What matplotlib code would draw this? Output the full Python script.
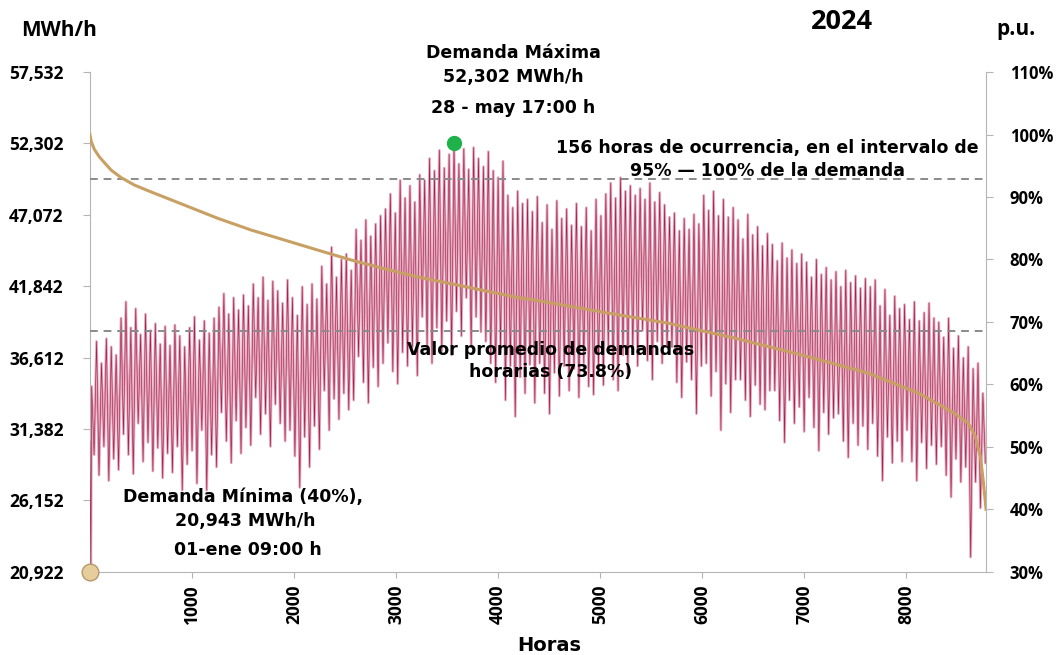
import numpy as np
import matplotlib
matplotlib.use("Agg")
import matplotlib.pyplot as plt
from matplotlib.ticker import FuncFormatter

# Datos (demanda horaria 2024)
horas_anio = 8784
y_ticks_mwh = [20922, 26152, 31382, 36612, 41842, 47072, 52302, 57532]
pu_ticks = [30, 40, 50, 60, 70, 80, 90, 100, 110]
x_ticks = [1000, 2000, 3000, 4000, 5000, 6000, 7000, 8000]

demanda_max = 52302
hora_max = 3569
demanda_min = 20943
hora_min = 9
promedio_pu = 73.8
umbral_pu = 95

# primeras horas del año (caída hasta el mínimo)
inicio_horas = [0, 9]
inicio_mwh = [30500, 20943]

# picos y valles visibles de la serie horaria, cada 24 h a partir de la hora 17
primera_hora = 17
paso_horas = 24
picos_mwh = [
    34500, 37800, 36200, 38000, 37400, 36800,
    39500, 40700, 38800, 40200, 38300, 39800, 38600,
    39100, 37600, 38900, 37500, 39000, 38200, 37400,
    38800, 39600, 37900, 39300, 38400, 39500,
    40300, 41300, 39800, 41000, 40100, 41200, 40400,
    42000, 41000, 42500, 40800, 42200, 41500, 40600,
    42300, 41000, 39700, 41800, 40500, 42000, 40900,
    43300, 42000, 44700, 42500, 43800, 44200, 43000,
    46000, 45200, 46700, 45500, 46400, 47000,
    47500, 48600, 47200, 49600, 48300, 49200, 48000,
    50000, 49600, 51200, 50300, 51800, 50500, 51500,
    52302, 50800, 51900, 50400, 52000, 51200, 50600,
    51700, 50300, 49800, 51000, 48500, 47600, 48800, 47900, 48200, 47300,
    48400, 46500, 47800, 46000, 48100, 46800, 47500,
    46300, 47900, 46200, 47600, 45900, 48200, 47000,
    48600, 49400, 48300, 49800, 48800, 49200, 48500,
    49000, 48200, 49400, 48000, 48700, 47800,
    46900, 47200, 45900, 46800, 46000, 47100, 46400,
    48500, 47400, 48800, 47000, 48200, 46900, 47600,
    46700, 45300, 47100, 45600, 46200, 44800, 45700,
    44900, 43700, 45000, 43900, 44500, 43500, 44200,
    43600, 42500, 43800, 42700, 43200, 42300,
    42900, 41800, 43000, 42100, 42600, 41700, 42400,
    41800, 42300, 40400, 41600, 39700, 41100, 40200,
    40500, 39400, 40700, 39300, 39900, 40600, 39500,
    39200, 38100, 39500, 37300, 38200, 36600, 37400,
    35800, 36200, 34000,
]
valles_mwh = [
    29500, 28000, 30100, 27600, 29200, 28400,
    31000, 29500, 28100, 31800, 29000, 30400, 28300,
    30000, 27800, 29600, 28200, 30100, 26900, 28800,
    29800, 27400, 31300, 26900, 29500, 28600,
    32600, 30500, 28900, 32000, 29600, 31500, 30200,
    33700, 31000, 32500, 30100, 33200, 31800, 30500,
    31300, 29400, 27100, 30800, 28600, 31600, 29900,
    34200, 31300, 33600, 32100, 34000, 32800, 33500,
    36700, 34800, 33300, 35900, 34500, 36200,
    37700, 35600, 34700, 37000, 36000, 37400, 35300,
    39600, 37500, 36200, 38800, 37100, 39300, 36800,
    40000, 38200, 41000, 37400, 39600, 38500, 37800,
    36200, 34800, 37000, 33500, 36000, 32300, 35200, 34000, 36100, 33300,
    36200, 34000, 32500, 35500, 33800, 36000, 34200,
    35800, 33700, 36200, 34500, 33900, 35700, 34600,
    37400, 35000, 34200, 36800, 35500, 37000, 36000,
    38600, 36400, 35000, 37800, 36200, 37400,
    37400, 34800, 33700, 36300, 35000, 32500, 36000,
    36200, 33800, 35600, 31300, 34700, 32600, 35000,
    35000, 33500, 32300, 34600, 33200, 32800, 34200,
    34200, 32000, 30400, 33500, 31800, 33000, 31200,
    33700, 31500, 29800, 32600, 31000, 32200,
    32500, 30500, 29300, 31800, 30200, 31600, 29900,
    31800, 29400, 27600, 30800, 28900, 30500, 29000,
    31300, 29000, 27600, 30400, 28500, 30200, 28800,
    30100, 28000, 26400, 29200, 27500, 28600, 22000,
    27500, 25600, 28900,
]

# curva de duración de carga (p.u.)
duracion_horas = [0, 12, 44, 93, 142, 208, 306, 437, 601, 927, 1251, 1582, 1909,
                  2233, 2563, 2890, 3214, 3545, 3871, 4195, 4362, 5017, 5667,
                  6325, 6979, 7630, 8121, 8451, 8611, 8680, 8729, 8759, 8784]
duracion_pu = [100, 98.9, 97.6, 96.4, 95.5, 94.3, 93.1, 91.9, 90.8, 88.7, 86.6,
               84.7, 83.1, 81.5, 79.9, 78.5, 77.2, 76.1, 75.0, 73.9, 73.5, 71.6,
               69.8, 67.4, 64.7, 61.8, 58.6, 55.6, 53.8, 51.6, 48.4, 44.2, 40.0]


def serie_horaria():
    n = len(picos_mwh)
    h_picos = primera_hora + 2 * paso_horas * np.arange(n)
    h_valles = h_picos + paso_horas
    horas = np.empty(2 * n)
    valores = np.empty(2 * n)
    horas[0::2] = h_picos
    horas[1::2] = h_valles
    valores[0::2] = picos_mwh
    valores[1::2] = valles_mwh
    horas = np.concatenate([inicio_horas, horas])
    valores = np.concatenate([inicio_mwh, valores])
    return horas, valores


def main():
    plt.rcParams["font.family"] = ["Open Sans", "DejaVu Sans"]
    plt.rcParams["font.weight"] = "bold"
    gris = "#b5b5b5"

    fig = plt.figure(figsize=(10.58, 6.55), dpi=100)
    ax = fig.add_axes([0.085, 0.127, 0.847, 0.763])

    horas, valores = serie_horaria()
    ax.plot(horas, valores, color="#e4a9bc", lw=1.9, zorder=2)
    ax.plot(horas, valores, color="#a3204f", lw=0.45, zorder=3)

    dash = (0, (4, 3))
    ax.axhline(demanda_max * umbral_pu / 100, color="#8a8a8a", lw=1.4, ls=dash, zorder=4)
    ax.axhline(demanda_max * promedio_pu / 100, color="#8a8a8a", lw=1.4, ls=dash, zorder=4)

    ax.plot([hora_max], [demanda_max], "o", color="#1fb24a", ms=10, zorder=6)

    ax.set_xlim(0, horas_anio)
    ax.set_ylim(y_ticks_mwh[0], y_ticks_mwh[-1])
    ax.set_yticks(y_ticks_mwh)
    ax.yaxis.set_major_formatter(FuncFormatter(lambda v, p: f"{v:,.0f}"))
    ax.set_xticks(x_ticks)
    ax.tick_params(axis="x", rotation=90, labelsize=12.5, length=4, color=gris, pad=5)
    ax.tick_params(axis="y", labelsize=12.5, length=5, color=gris, pad=14)
    ax.set_xlabel("Horas", fontsize=14, fontweight="bold", family="DejaVu Sans")
    ax.xaxis.set_label_coords(0.513, -0.128)
    for s in ["top", "right"]:
        ax.spines[s].set_visible(False)
    for s in ["left", "bottom"]:
        ax.spines[s].set_color(gris)

    ax2 = ax.twinx()
    ax2.plot(duracion_horas, duracion_pu, color="#c8a063", lw=2.2, zorder=5)
    ax2.set_ylim(pu_ticks[0], pu_ticks[-1])
    ax2.set_yticks(pu_ticks)
    ax2.yaxis.set_major_formatter(FuncFormatter(lambda v, p: f"{v:.0f}%"))
    ax2.tick_params(axis="y", labelsize=12, length=5, color=gris, pad=12)
    for s in ["top", "left", "bottom"]:
        ax2.spines[s].set_visible(False)
    ax2.spines["right"].set_color(gris)
    ax2.plot([0], [30], "o", ms=12, color="#e6cd9c", mec="#b7986a", mew=1.0,
             clip_on=False, zorder=7)

    # textos
    fig.text(59 / 1058, 1 - 30 / 655, "MWh/h", fontsize=15, ha="center", va="center")
    fig.text(842 / 1058, 1 - 22 / 655, "2024", fontsize=19.5, ha="center", va="center")
    fig.text(1016 / 1058, 1 - 30 / 655, "p.u.", fontsize=15, ha="center", va="center")

    anot = dict(fontsize=12.5, ha="center", va="center", family="DejaVu Sans",
                fontweight="bold")
    fig.text(513 / 1058, 1 - 53 / 655, "Demanda Máxima", **anot)
    fig.text(513 / 1058, 1 - 77 / 655, "52,302 MWh/h", **anot)
    fig.text(513 / 1058, 1 - 108 / 655, "28 - may 17:00 h", **anot)
    fig.text(767 / 1058, 1 - 148 / 655, "156 horas de ocurrencia, en el intervalo de", **anot)
    fig.text(767 / 1058, 1 - 171 / 655, "95% — 100% de la demanda", **anot)
    fig.text(551 / 1058, 1 - 350 / 655, "Valor promedio de demandas", **anot)
    fig.text(551 / 1058, 1 - 372 / 655, "horarias (73.8%)", **anot)
    fig.text(243 / 1058, 1 - 497 / 655, "Demanda Mínima (40%),", **anot)
    fig.text(245 / 1058, 1 - 521 / 655, "20,943 MWh/h", **anot)
    fig.text(248 / 1058, 1 - 550 / 655, "01-ene 09:00 h", **anot)

    fig.savefig("out.png", dpi=100)


if __name__ == "__main__":
    main()
